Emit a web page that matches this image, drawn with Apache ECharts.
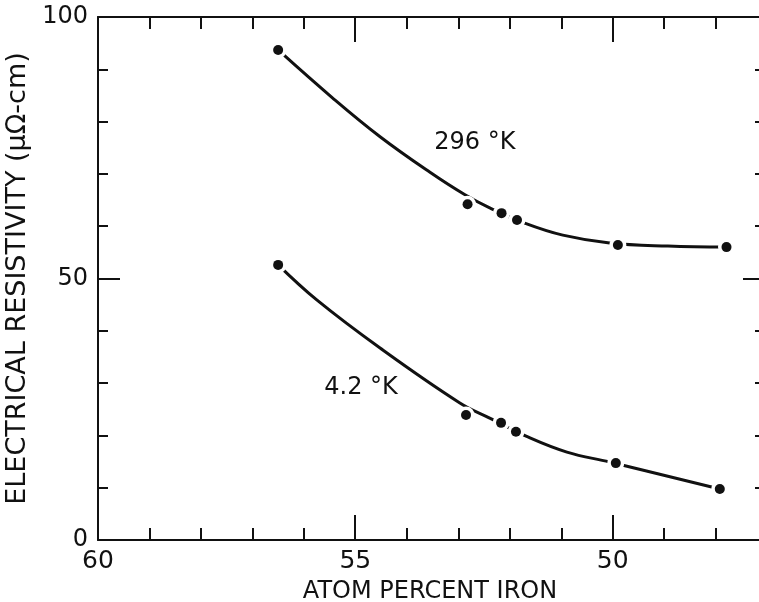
<!DOCTYPE html>
<html>
<head>
<meta charset="utf-8">
<script src="https://cdn.jsdelivr.net/npm/echarts@6/dist/echarts.min.js"></script>
<style>html,body{margin:0;padding:0;background:#fff;}#c{width:759px;height:602px;}</style>
</head>
<body>
<div id="c"></div>
<script>
// Measured points (atom percent iron, resistivity µΩ-cm)
const pts296X = [56.50, 52.82, 52.16, 51.86, 49.90, 47.79];
const pts296Y = [93.7, 64.2, 62.5, 61.2, 56.4, 56.0];
const pts42X = [56.50, 52.85, 52.17, 51.88, 49.94, 47.92];
const pts42Y = [52.6, 23.9, 22.4, 20.7, 14.7, 9.75];
// Drawn curves
const curve296X = [56.50, 55.44, 54.52, 53.55, 52.87, 52.39, 51.71, 50.97, 50.06, 48.93, 47.79];
const curve296Y = [93.7, 84.5, 77.1, 70.3, 66.0, 63.5, 60.6, 58.3, 56.8, 56.2, 56.0];
const curve42X = [56.50, 55.75, 54.52, 52.97, 52.39, 51.65, 50.89, 50.06, 47.92];
const curve42Y = [52.6, 45.9, 36.7, 26.2, 23.3, 19.7, 16.8, 14.9, 9.75];
// Ticks and labels
const xLabels = [60, 55, 50];
const xMinorTicks = [48, 49, 51, 52, 53, 54, 56, 57, 58, 59];
const xMajorTicks = [55, 50];
const yLabels = [0, 50, 100];
const yMinorTicks = [10, 20, 30, 40, 60, 70, 80, 90];
const yMajorTicks = [50];
// Annotations
const annoText = ['296 °K', '4.2 °K'];
const annoX = [52.68, 54.89];
const annoY = [75.9, 29.1];

const zip = (a, b) => a.map((v, i) => [v, b[i]]);
const FONT = 'DejaVu Sans';
const black = '#111';
const XMIN = 47.1, XMAX = 60;

const chart = echarts.init(document.getElementById('c'), null, {renderer: 'canvas'});

const option = {
  backgroundColor: '#fff',
  animation: false,
  grid: {left: 98, top: 17, right: -3, bottom: 62, containLabel: false, outerBoundsMode: 'none'},
  xAxis: [
    {type: 'value', position: 'bottom', min: XMIN, max: XMAX, inverse: true,
     axisLine: {show: true, onZero: false, lineStyle: {color: black, width: 2}},
     axisTick: {show: true, inside: true, length: 12, customValues: xMinorTicks, lineStyle: {color: black, width: 2}},
     axisLabel: {show: true, customValues: xLabels, color: black, fontFamily: FONT, fontSize: 25, margin: 9},
     splitLine: {show: false},
     name: 'ATOM PERCENT IRON', nameLocation: 'middle', nameGap: 40,
     nameTextStyle: {color: black, fontFamily: FONT, fontSize: 24}},
    {type: 'value', position: 'top', min: XMIN, max: XMAX, inverse: true,
     axisLine: {show: true, onZero: false, lineStyle: {color: black, width: 2}},
     axisTick: {show: true, inside: true, length: 12, customValues: xMinorTicks, lineStyle: {color: black, width: 2}},
     axisLabel: {show: false}, splitLine: {show: false}}
  ],
  yAxis: [
    {type: 'value', position: 'left', min: 0, max: 100,
     axisLine: {show: true, onZero: false, lineStyle: {color: black, width: 2}},
     axisTick: {show: true, inside: true, length: 10, customValues: yMinorTicks, lineStyle: {color: black, width: 2}},
     axisLabel: {show: true, customValues: yLabels, color: black, fontFamily: FONT, fontSize: 24, margin: 10},
     splitLine: {show: false},
     name: 'ELECTRICAL RESISTIVITY (μΩ-cm)', nameLocation: 'middle', nameGap: 54, nameRotate: 90,
     nameTextStyle: {color: black, fontFamily: FONT, fontSize: 27}},
    {type: 'value', position: 'right', min: 0, max: 100,
     axisLine: {show: false, onZero: false},
     axisTick: {show: true, inside: true, length: 7, customValues: yMinorTicks, lineStyle: {color: black, width: 2}},
     axisLabel: {show: false}, splitLine: {show: false}}
  ],
  series: [
    {type: 'line', name: '296 K curve', data: zip(curve296X, curve296Y), smooth: 0.4, symbol: 'none',
     lineStyle: {color: black, width: 3}, z: 2},
    {type: 'line', name: '4.2 K curve', data: zip(curve42X, curve42Y), smooth: 0.4, symbol: 'none',
     lineStyle: {color: black, width: 3}, z: 2},
    {type: 'scatter', data: zip(pts296X, pts296Y).concat(zip(pts42X, pts42Y)), symbolSize: 17,
     itemStyle: {color: '#fff', opacity: 1}, z: 3, silent: true},
    {type: 'scatter', name: '296 K', data: zip(pts296X, pts296Y), symbolSize: 10,
     itemStyle: {color: black, opacity: 1}, z: 4},
    {type: 'scatter', name: '4.2 K', data: zip(pts42X, pts42Y), symbolSize: 10,
     itemStyle: {color: black, opacity: 1}, z: 4}
  ]
};
chart.setOption(option);

const g = annoText.map((t, i) => {
  const p = chart.convertToPixel({xAxisIndex: 0, yAxisIndex: 0}, [annoX[i], annoY[i]]);
  return {type: 'text', x: p[0], y: p[1], style: {text: t, fill: black, font: '24px "' + FONT + '"', textAlign: 'center', textVerticalAlign: 'middle'}};
});
// Longer major ticks on all four sides
const rect = chart.getModel().getComponent('grid', 0).coordinateSystem.getRect();
const tickStyle = {stroke: black, lineWidth: 2};
const gTop = Math.round(rect.y), gBottom = Math.round(rect.y + rect.height);
const gLeft = Math.round(rect.x), gRight = Math.round(rect.x + rect.width);
xMajorTicks.forEach(v => {
  const px = Math.round(chart.convertToPixel({xAxisIndex: 0}, v));
  g.push({type: 'line', shape: {x1: px, y1: gBottom, x2: px, y2: gBottom - 25}, style: tickStyle, silent: true});
  g.push({type: 'line', shape: {x1: px, y1: gTop, x2: px, y2: gTop + 25}, style: tickStyle, silent: true});
});
yMajorTicks.forEach(v => {
  const py = Math.round(chart.convertToPixel({yAxisIndex: 0}, v));
  g.push({type: 'line', shape: {x1: gLeft, y1: py, x2: gLeft + 22, y2: py}, style: tickStyle, silent: true});
  g.push({type: 'line', shape: {x1: gRight, y1: py, x2: gRight - 19, y2: py}, style: tickStyle, silent: true});
});
chart.setOption({graphic: g});
</script>
</body>
</html>
